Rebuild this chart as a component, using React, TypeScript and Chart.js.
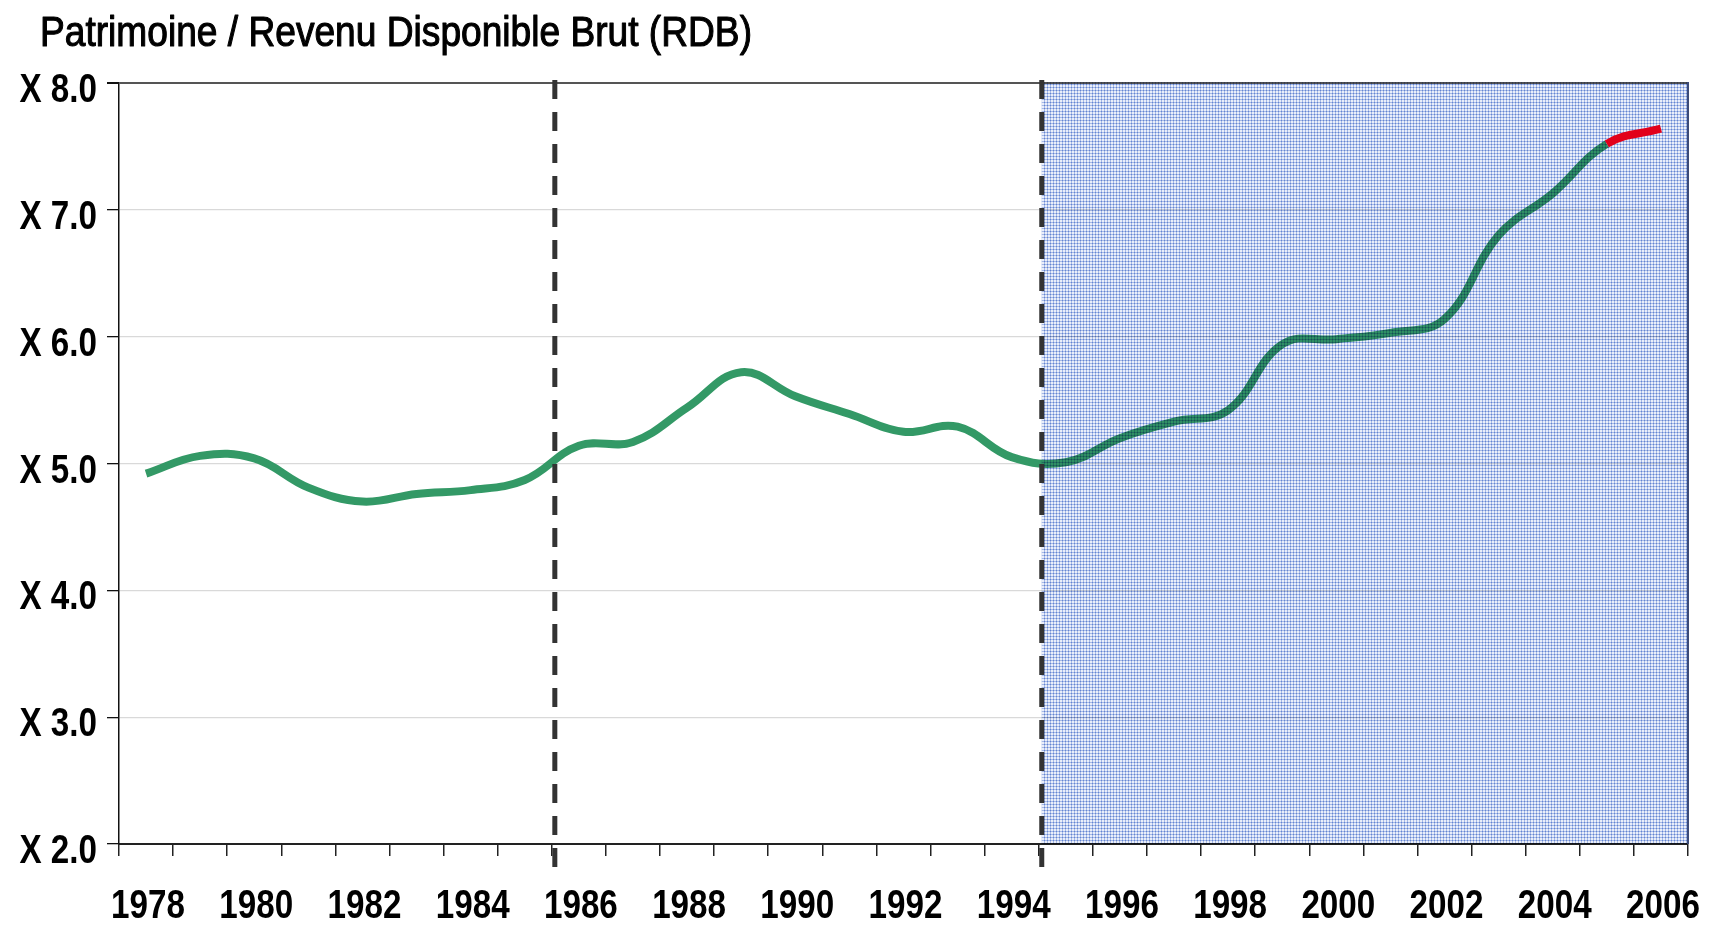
import { useEffect, useRef } from 'react';
import { Chart, registerables } from 'chart.js';

Chart.register(...registerables);

// ---- data ----
const years = [
  '1978', '1979', '1980', '1981', '1982', '1983', '1984', '1985', '1986', '1987',
  '1988', '1989', '1990', '1991', '1992', '1993', '1994', '1995', '1996', '1997',
  '1998', '1999', '2000', '2001', '2002', '2003', '2004', '2005', '2006',
];
const ratioValues = [
  4.92, 5.06, 5.04, 4.81, 4.70, 4.76, 4.79, 4.87, 5.14, 5.17,
  5.44, 5.72, 5.53, 5.39, 5.25, 5.29, 5.05, 5.01, 5.20, 5.33,
  5.42, 5.94, 5.98, 6.03, 6.14, 6.80, 7.13, 7.52, 7.64,
];
const breakYears = ['1986', '1995']; // dashed separators placed just before these years
const shadedFromYear = '1995';
const forecastFromYear = '2005';
const yMin = 2;
const yMax = 8;
const yStep = 1;
const titleText = 'Patrimoine / Revenu Disponible Brut (RDB)';

const FONT = "'Liberation Sans', Arial, sans-serif";
const NARROW = 0.83; // horizontal compression to mimic a narrow face
const GREEN = '#339966';
const RED = '#e2001a';

function makePattern(ctx: CanvasRenderingContext2D): CanvasPattern | string {
  const tile = document.createElement('canvas');
  tile.width = 3;
  tile.height = 3;
  const t = tile.getContext('2d');
  if (!t) return '#bccaec';
  t.fillStyle = '#e9eefa';
  t.fillRect(0, 0, 3, 3);
  t.fillStyle = '#a6b9e6';
  t.fillRect(0, 0, 3, 1);
  t.fillRect(0, 0, 1, 3);
  t.fillStyle = '#6385d2';
  t.fillRect(0, 0, 1, 1);
  return ctx.createPattern(tile, 'repeat') || '#bccaec';
}

function boundaryBefore(chart: any, label: string): number {
  const x = chart.scales.x;
  const i = years.indexOf(label);
  return (x.getPixelForValue(i - 1) + x.getPixelForValue(i)) / 2;
}

function narrowText(
  ctx: CanvasRenderingContext2D,
  text: string,
  x: number,
  y: number,
  align: 'left' | 'right' | 'center',
  sx: number,
  strokeW = 0,
) {
  ctx.save();
  ctx.translate(x, y);
  ctx.scale(sx, 1);
  ctx.textAlign = align;
  ctx.textBaseline = 'alphabetic';
  ctx.fillText(text, 0, 0);
  if (strokeW > 0) {
    ctx.lineWidth = strokeW;
    ctx.strokeStyle = ctx.fillStyle as string;
    ctx.lineJoin = 'round';
    ctx.strokeText(text, 0, 0);
  }
  ctx.restore();
}

const decorPlugin = {
  id: 'decor',
  afterDatasetDraw(chart: any, args: any) {
    if (args.index !== 0) return;
    const { ctx, chartArea } = chart;
    const xs = boundaryBefore(chart, shadedFromYear) + 3;
    ctx.save();
    ctx.globalCompositeOperation = 'multiply';
    ctx.fillStyle = makePattern(ctx);
    ctx.fillRect(xs, chartArea.top - 1, chartArea.right - xs, chartArea.bottom - chartArea.top + 1);
    ctx.restore();
    ctx.save();
    ctx.strokeStyle = '#3b4a78';
    ctx.lineWidth = 2;
    ctx.beginPath();
    ctx.moveTo(chartArea.right, chartArea.top - 1);
    ctx.lineTo(chartArea.right, chartArea.bottom);
    ctx.stroke();
    ctx.restore();
  },
  afterDraw(chart: any) {
    const { ctx, chartArea } = chart;
    // dashed separators
    ctx.save();
    ctx.strokeStyle = '#333333';
    ctx.lineWidth = 5;
    ctx.setLineDash([19, 13]);
    breakYears.forEach((y) => {
      const bx = boundaryBefore(chart, y) + 3;
      ctx.beginPath();
      ctx.moveTo(bx, chartArea.top - 3);
      ctx.lineTo(bx, chartArea.bottom + 23);
      ctx.stroke();
    });
    ctx.restore();

    ctx.save();
    ctx.fillStyle = '#000';
    // y tick labels (from the library's ticks)
    const ys = chart.scales.y;
    ctx.font = `bold 40px ${FONT}`;
    ys.ticks.forEach((t: any) => {
      const py = ys.getPixelForValue(t.value);
      narrowText(ctx, String(t.label), 97, py + 19, 'right', NARROW);
    });
    // x tick labels
    const xsc = chart.scales.x;
    xsc.ticks.forEach((t: any, i: number) => {
      const lbl = String(t.label ?? '');
      if (!lbl) return;
      narrowText(ctx, lbl, xsc.getPixelForTick(i) + 2, 918, 'center', NARROW);
    });
    // title
    ctx.font = `42px ${FONT}`;
    const w = ctx.measureText(titleText).width;
    narrowText(ctx, titleText, 40, 46, 'left', 712 / w, 1.1);
    ctx.restore();
  },
};

export default function App() {
  const ref = useRef<HTMLCanvasElement | null>(null);

  useEffect(() => {
    if (!ref.current) return;
    const forecastIdx = years.indexOf(forecastFromYear);
    const chart = new Chart(ref.current, {
      type: 'line',
      data: {
        labels: years,
        datasets: [
          {
            label: 'Patrimoine / RDB',
            data: ratioValues,
            order: 2,
            borderColor: GREEN,
            borderWidth: 8,
            tension: 0.4,
            pointRadius: 0,
            fill: false,
            segment: {
              borderColor: (c: any) => (c.p0DataIndex >= forecastIdx ? 'rgba(0,0,0,0)' : GREEN),
            },
          },
          {
            label: 'Prévision',
            data: ratioValues,
            order: 1,
            borderColor: RED,
            borderWidth: 8,
            tension: 0.4,
            pointRadius: 0,
            fill: false,
            segment: {
              borderColor: (c: any) => (c.p0DataIndex >= forecastIdx ? RED : 'rgba(0,0,0,0)'),
            },
          },
        ],
      },
      options: {
        responsive: false,
        animation: false,
        events: [],
        layout: { padding: { top: 83, right: 22, left: 0, bottom: 0 } },
        plugins: {
          legend: { display: false },
          title: { display: false },
          tooltip: { enabled: false },
        },
        scales: {
          x: {
            type: 'category',
            offset: true,
            afterFit: (s: any) => { s.height = 81; },
            grid: {
              offset: true,
              drawOnChartArea: false,
              drawTicks: true,
              tickLength: 12,
              tickColor: '#222',
              lineWidth: 1.5,
            },
            border: { display: true, color: '#222', width: 2 },
            ticks: {
              display: false,
              autoSkip: false,
              maxRotation: 0,
              minRotation: 0,
              callback: (_v: any, i: number) => (i % 2 === 0 ? years[i] : ''),
            },
          },
          y: {
            min: yMin,
            max: yMax,
            afterFit: (s: any) => { s.width = 119; },
            grid: {
              drawTicks: true,
              tickLength: 12,
              tickColor: '#111',
              color: (c: any) =>
                c.tick && c.tick.value === yMax ? '#555555' : c.tick && c.tick.value === yMin ? 'rgba(0,0,0,0)' : '#d9d9d9',
              lineWidth: (c: any) => (c.tick && c.tick.value === yMax ? 2 : 1.3),
            },
            border: { display: true, color: '#111', width: 1.5 },
            ticks: {
              display: false,
              stepSize: yStep,
              callback: (v: any) => 'X ' + Number(v).toFixed(1),
            },
          },
        },
      },
      plugins: [decorPlugin],
    });
    return () => chart.destroy();
  }, []);

  return (
    <div style={{ position: 'fixed', left: 0, top: 0, width: 1710, height: 925, background: '#fff' }}>
      <canvas ref={ref} width={1710} height={925} style={{ display: 'block' }} />
    </div>
  );
}
